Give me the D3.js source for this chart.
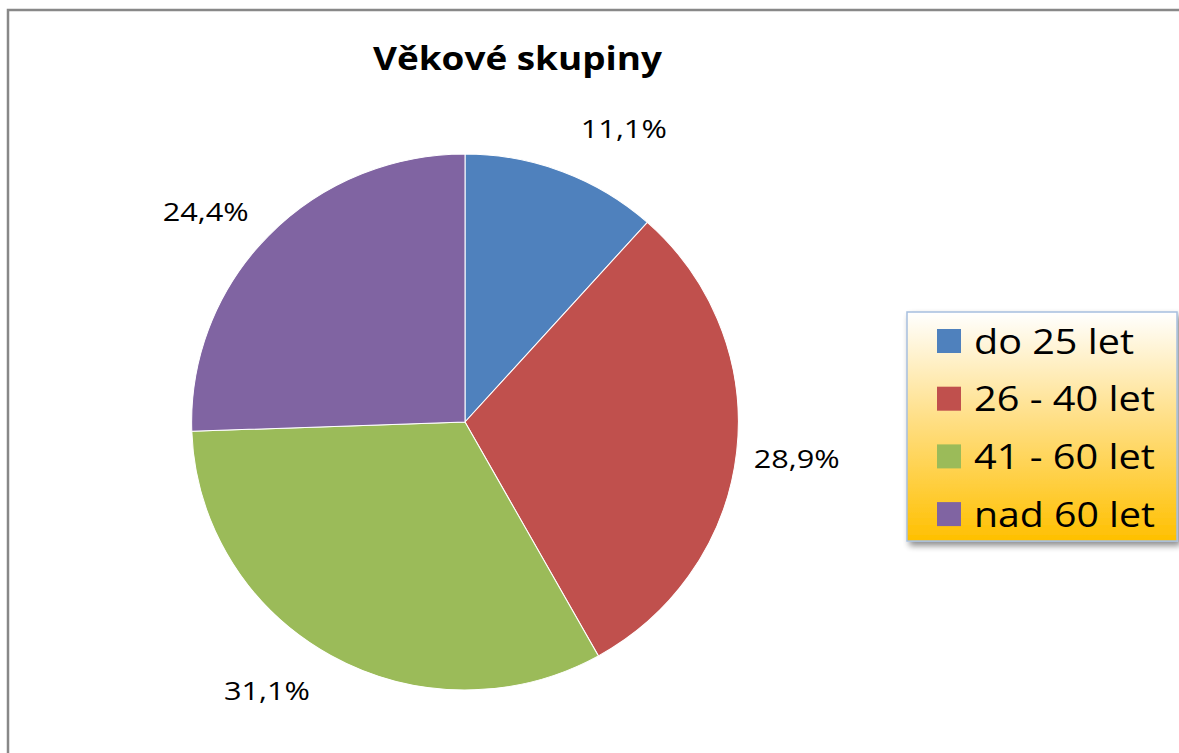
<!DOCTYPE html>
<html>
<head>
<meta charset="utf-8">
<script src="https://cdn.jsdelivr.net/npm/d3@7"></script>
<style>
  body { margin: 0; background: #fff; }
  svg { display: block; font-family: "Open Sans", "Noto Sans", sans-serif; }
</style>
</head>
<body>
<div id="chart"></div>
<script>
const categories = ["do 25 let", "26 - 40 let", "41 - 60 let", "nad 60 let"];
const values = [11.1, 28.9, 31.1, 24.4];
const labels = ["11,1%", "28,9%", "31,1%", "24,4%"];
const colors = ["#4F81BD", "#C0504D", "#9BBB59", "#8064A2"];

let width = 1179,
  height = 753,
  cx = 465,
  cy = 422,
  r = 268;

// small angular nudges (degrees) to mimic Excel's best-fit label placement
const labelNudge = [7.5, 0, 7, -5];

const data = categories.map((c, i) => ({ name: c, value: values[i], label: labels[i], color: colors[i], nudge: labelNudge[i] }));

const svg = d3.select("#chart")
  .append("svg")
  .attr("width", width)
  .attr("height", height)
  .attr("viewBox", [0, 0, width, height]);

const defs = svg.append("defs");
const grad = defs.append("linearGradient")
  .attr("id", "legendGrad")
  .attr("x1", 0).attr("y1", 0).attr("x2", 0).attr("y2", 1);
grad.append("stop").attr("offset", "0%").attr("stop-color", "#FFFFFF");
grad.append("stop").attr("offset", "45%").attr("stop-color", "#FFE08A");
grad.append("stop").attr("offset", "100%").attr("stop-color", "#FFC000");

const blur = defs.append("filter").attr("id", "shadow").attr("x", "-10%").attr("y", "-10%").attr("width", "130%").attr("height", "130%");
blur.append("feGaussianBlur").attr("in", "SourceAlpha").attr("stdDeviation", 3);
blur.append("feOffset").attr("dx", 3).attr("dy", 4).attr("result", "b");
blur.append("feComponentTransfer").append("feFuncA").attr("type", "linear").attr("slope", 0.45);
const merge = blur.append("feMerge");
merge.append("feMergeNode");
merge.append("feMergeNode").attr("in", "SourceGraphic");

// chart area border
svg.append("path")
  .attr("d", `M8,${height} L8,10 L${width},10`)
  .attr("fill", "none")
  .attr("stroke", "#888")
  .attr("stroke-width", 2.5);

svg.append("text")
  .attr("x", 517.5)
  .attr("y", 70)
  .attr("text-anchor", "middle")
  .attr("font-size", 32)
  .attr("font-weight", "bold")
  .attr("textLength", 289)
  .attr("lengthAdjust", "spacingAndGlyphs")
  .text("Věkové skupiny");

const pie = d3.pie().sort(null).value(d => d.value);
const arc = d3.arc().innerRadius(0).outerRadius(r);
const arcs = pie(data);

const g = svg.append("g")
  .attr("transform", `translate(${cx},${cy}) scale(1.02,1)`);

g.selectAll("path")
  .data(arcs)
  .join("path")
  .attr("d", arc)
  .attr("fill", d => d.data.color)
  .attr("stroke", "#fff")
  .attr("stroke-width", 1);

const lr = r * 1.245;
svg.append("g")
  .attr("transform", `translate(${cx},${cy})`)
  .selectAll("text")
  .data(arcs)
  .join("text")
  .attr("transform", d => {
    const a = (d.startAngle + d.endAngle) / 2 + d.data.nudge * Math.PI / 180;
    return `translate(${Math.sin(a) * lr},${-Math.cos(a) * lr})`;
  })
  .attr("text-anchor", "middle")
  .attr("dy", "0.36em")
  .attr("font-size", 26)
  .attr("textLength", 86)
  .attr("lengthAdjust", "spacingAndGlyphs")
  .text(d => d.data.label);

// legend
const legend = svg.append("g").attr("transform", "translate(907,312)");
legend.append("rect")
  .attr("width", 270)
  .attr("height", 229)
  .attr("fill", "url(#legendGrad)")
  .attr("stroke", "#A7BFDE")
  .attr("stroke-width", 1.5)
  .attr("filter", "url(#shadow)");

const row = legend.selectAll(".item")
  .data(data)
  .join("g")
  .attr("class", "item")
  .attr("transform", (d, i) => `translate(30,${29 + i * 57.7})`);

row.append("rect")
  .attr("x", 0)
  .attr("y", -12)
  .attr("width", 24)
  .attr("height", 24)
  .attr("fill", d => d.color);

row.append("text")
  .attr("x", 37)
  .attr("dy", "0.36em")
  .attr("font-size", 35)
  .attr("textLength", (d, i) => i === 0 ? 160 : 181)
  .attr("lengthAdjust", "spacingAndGlyphs")
  .text(d => d.name);
</script>
</body>
</html>
